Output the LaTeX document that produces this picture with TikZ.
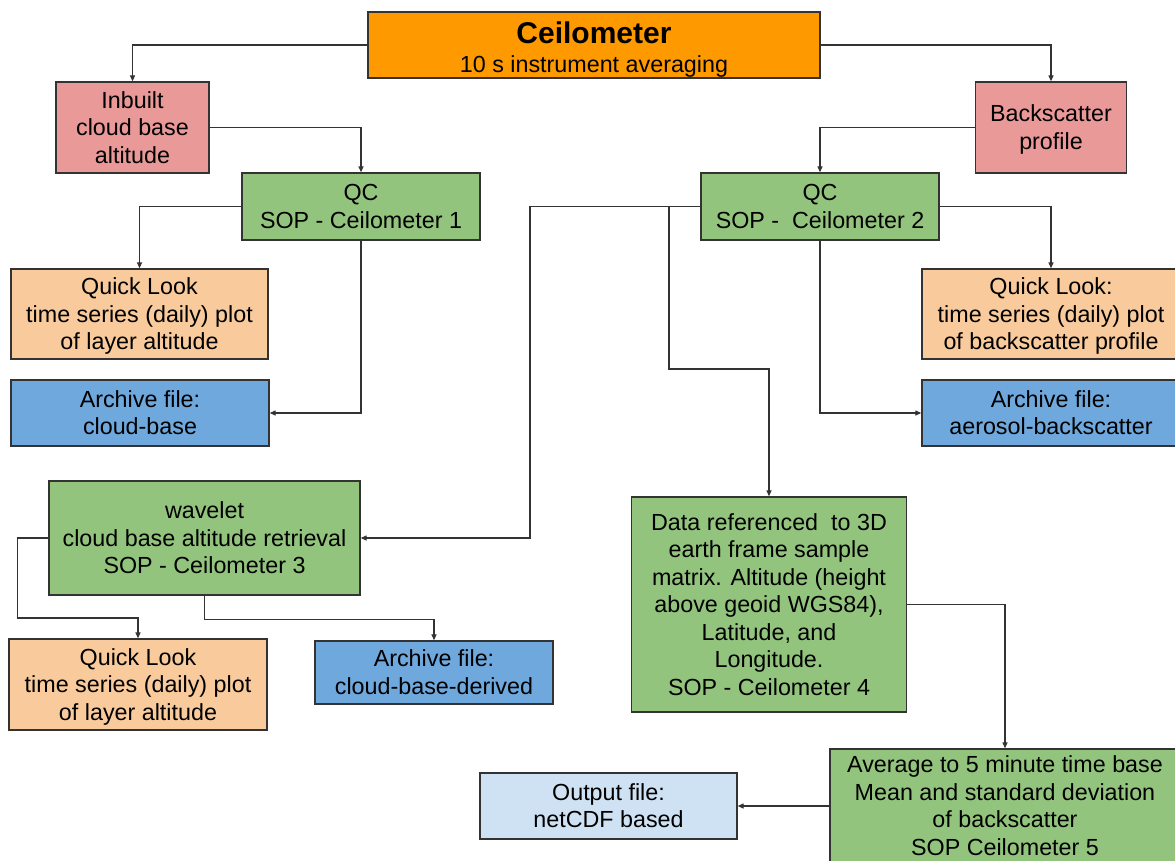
\documentclass[tikz,border=0pt]{standalone}
\usepackage{fontspec}
\setmainfont{Liberation Sans}
\usetikzlibrary{arrows.meta}

\definecolor{edge}{HTML}{333333}
\definecolor{srcorange}{HTML}{FF9900}
\definecolor{rawpink}{HTML}{EA9999}
\definecolor{procgreen}{HTML}{93C47D}
\definecolor{lookpeach}{HTML}{F9CB9C}
\definecolor{archblue}{HTML}{6FA8DC}
\definecolor{outblue}{HTML}{CFE2F3}

% invisible struts that fix where the lines sit inside a box
\newcommand\upstrut{\rule{0pt}{21.5pt}}
\newcommand\dnstrut{\rule[-5.3pt]{0pt}{0pt}}

\tikzset{
  box/.style={draw=edge, line width=1.3pt, align=center, inner sep=0pt,
    font=\fontsize{23.3}{27.5}\selectfont},
  flow/.style={draw=edge, line width=1.2pt,
    -{Triangle[length=6pt,width=5pt]}},
}

\begin{document}
\begin{tikzpicture}[x=1pt,y=-1pt]
\useasboundingbox (0,0) rectangle (1175,860);
\clip (0,0) rectangle (1175,860);

% sources
\node[box, fill=srcorange, minimum width=452pt, minimum height=66pt] (ceil) at (594,45)
  {\rule{0pt}{31.5pt}{\fontsize{30}{30}\selectfont\bfseries Ceilometer}\\[1.5pt]10 s instrument averaging\rule[-5pt]{0pt}{0pt}};
\node[box, fill=rawpink, minimum width=153pt, minimum height=91pt] (inb) at (132.5,127.5)
  {\upstrut Inbuilt\\cloud base\\altitude\dnstrut};
\node[box, fill=rawpink, minimum width=151pt, minimum height=91pt] (back) at (1051,127.5)
  {\upstrut Backscatter\\profile\dnstrut};

% quality control
\node[box, fill=procgreen, minimum width=238pt, minimum height=67pt] (qc1) at (361,206.5)
  {\upstrut QC\\SOP - Ceilometer 1\dnstrut};
\node[box, fill=procgreen, minimum width=238pt, minimum height=67pt] (qc2) at (820,206.5)
  {\upstrut QC\\SOP -~ Ceilometer 2\dnstrut};

% quick looks and archives
\node[box, fill=lookpeach, minimum width=257pt, minimum height=90pt] (ql1) at (139.5,314)
  {\upstrut Quick Look\\time series (daily) plot\\of layer altitude\dnstrut};
\node[box, fill=archblue, minimum width=258pt, minimum height=66pt] (arc1) at (140,413)
  {\upstrut Archive file:\\cloud-base\dnstrut};
\node[box, fill=lookpeach, minimum width=258pt, minimum height=90pt] (ql2) at (1051,314)
  {\upstrut Quick Look:\\time series (daily) plot\\of backscatter profile\dnstrut};
\node[box, fill=archblue, minimum width=258pt, minimum height=66pt] (arc2) at (1051,413)
  {\upstrut Archive file:\\aerosol-backscatter\dnstrut};

% derived products
\node[box, fill=procgreen, minimum width=311pt, minimum height=114pt] (wav) at (204.5,538)
  {\upstrut wavelet\\cloud base altitude retrieval\\SOP - Ceilometer 3\dnstrut};
\node[box, fill=lookpeach, minimum width=258pt, minimum height=91pt] (ql3) at (138,684.5)
  {\upstrut Quick Look\\time series (daily) plot\\of layer altitude\dnstrut};
\node[box, fill=archblue, minimum width=238pt, minimum height=63pt] (arc3) at (434,672.5)
  {\upstrut Archive file:\\cloud-base-derived\dnstrut};
\node[box, fill=procgreen, minimum width=275pt, minimum height=215pt] (data) at (769,604.5)
  {\upstrut Data referenced~ to 3D\\earth frame sample\\matrix. Altitude (height\\above geoid WGS84),\\Latitude, and\\Longitude.\\SOP - Ceilometer 4\dnstrut};
\node[box, fill=procgreen, minimum width=350pt, minimum height=114pt] (avg) at (1005,806)
  {\upstrut Average to 5 minute time base\\Mean and standard deviation\\of backscatter\\SOP Ceilometer 5\dnstrut};
\node[box, fill=outblue, minimum width=257pt, minimum height=66pt] (out) at (608.5,806)
  {\upstrut Output file:\\netCDF based\dnstrut};

% bend points
\coordinate (toWav) at (530,206.5);
\coordinate (toDataA) at (669,206.5);
\coordinate (toDataB) at (669,369);
\coordinate (wavLeft) at (17.6,618);

% connectors
\draw[flow] (ceil.west) -| (inb.north);
\draw[flow] (ceil.east) -| (back.north);
\draw[flow] (inb.east) -| (qc1.north);
\draw[flow] (back.west) -| (qc2.north);
\draw[flow] (qc1.west) -| (ql1.north);
\draw[flow] (qc1.south) |- (arc1.east);
\draw[flow] (qc2.east) -| (ql2.north);
\draw[flow] (qc2.south) |- (arc2.west);
\draw[flow] (qc2.west) -- (toWav) |- (wav.east);
\draw[flow] (toDataA) -- (toDataB) -| (data.north);
\draw[flow] (wav.west) -| (wavLeft) -| (ql3.north);
\draw[flow] (wav.south) -- ++(0,24) -| (arc3.north);
\draw[flow] (data.east) -| (avg.north);
\draw[flow] (avg.west) -- (out.east);
\end{tikzpicture}
\end{document}
